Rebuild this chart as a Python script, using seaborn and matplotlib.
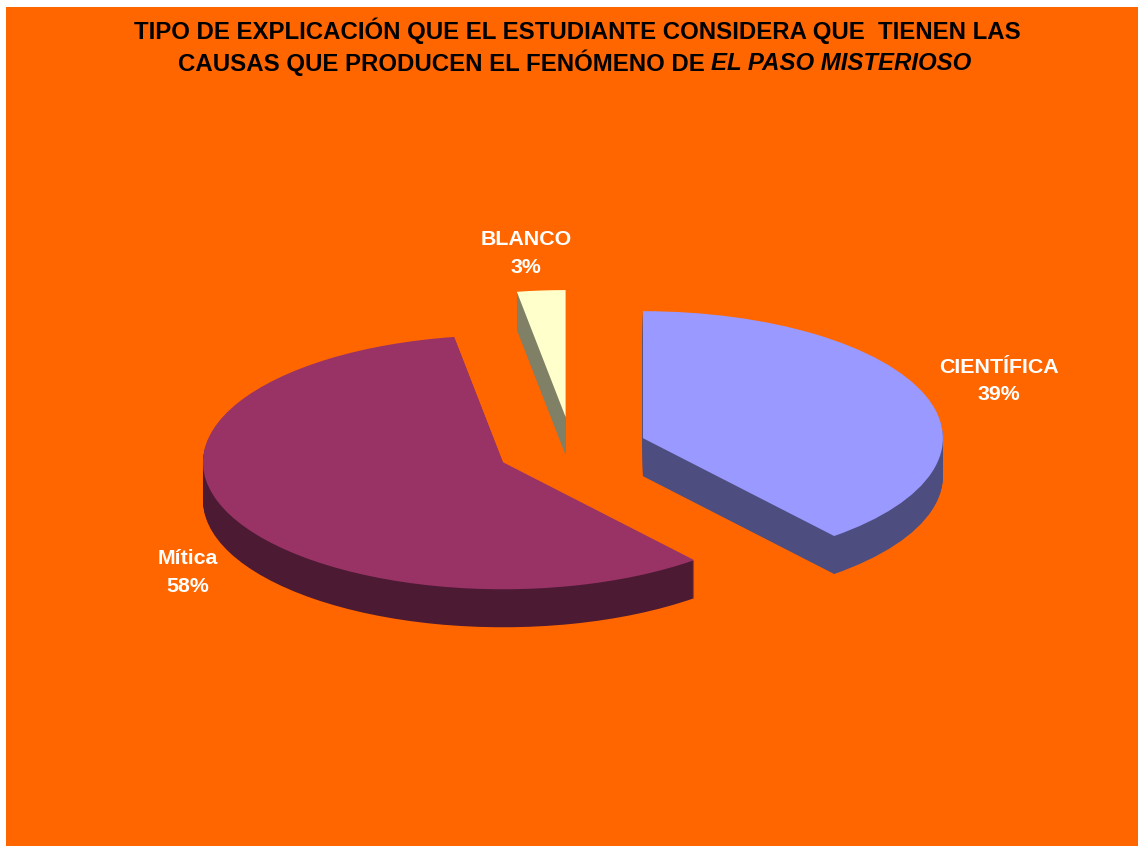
import matplotlib
matplotlib.use("Agg")
import matplotlib.pyplot as plt
import seaborn as sns

# ---- data ----
categories = ["CIENTÍFICA", "Mítica", "BLANCO"]
shares = [39.0, 58.4, 2.6]
title_line1 = "TIPO DE EXPLICACIÓN QUE EL ESTUDIANTE CONSIDERA QUE  TIENEN LAS"
title_line2 = "CAUSAS QUE PRODUCEN EL FENÓMENO DE"
title_italic = "EL PASO MISTERIOSO"

top_colors = ["#9999FF", "#993366", "#FFFFCC"]
wall_colors = ["#4D4D80", "#4D1A33", "#808066"]
ORANGE = "#FF6600"

W, H = 1138, 846
SQUASH = 127 / 300       # vertical foreshortening of the tilted pie
RADIUS = 300             # px
CX, CY = 571.8, 449.0    # pie centre, px from top-left
DEPTH = 38               # px
EXPLODE = 75.6           # px along each slice's bisector

sns.set_theme(style="white")
plt.rcParams["font.family"] = ["Liberation Sans", "DejaVu Sans"]

fig = plt.figure(figsize=(W / 100, H / 100), dpi=100, facecolor="white")
ax = fig.add_axes([6 / W, 0, (W - 6) / W, (H - 7) / H], facecolor=ORANGE)


def data_y(py):
    return (H - py) / SQUASH


explode = [EXPLODE] * len(shares)
for d in range(DEPTH, -1, -1):
    ax.pie(
        shares,
        explode=explode,
        colors=sns.color_palette(top_colors if d == 0 else wall_colors),
        startangle=90,
        counterclock=False,
        radius=RADIUS,
        center=(CX, data_y(CY + d)),
        frame=True,
        wedgeprops={"linewidth": 0},
    )

ax.set_aspect("auto")
ax.set_xlim(6, W)
ax.set_ylim(0, (H - 7) / SQUASH)
ax.set_xticks([])
ax.set_yticks([])
for s in ax.spines.values():
    s.set_visible(False)

# ---- text placed in figure pixels ----
def px(x, y):
    return x / W, 1 - y / H


TITLE_SIZE = 17.25
fig.text(*px(577, 31), title_line1, ha="center", va="center",
         fontsize=TITLE_SIZE, fontweight="bold", color="black")
fig.text(*px(178, 63), title_line2, ha="left", va="center",
         fontsize=TITLE_SIZE, fontweight="bold", color="black")
fig.text(*px(711, 63), title_italic, ha="left", va="center",
         fontsize=TITLE_SIZE, fontweight="bold", fontstyle="italic", color="black")

label_pos = [(998.5, 381), (188, 572.5), (526, 253.5)]
for name, share, (lx, ly) in zip(categories, shares, label_pos):
    fig.text(*px(lx, ly), f"{name}\n{share:.0f}%", ha="center", va="center",
             fontsize=15.4, fontweight="bold", color="white", linespacing=1.55)

fig.savefig("out.png", dpi=100, facecolor="white")
